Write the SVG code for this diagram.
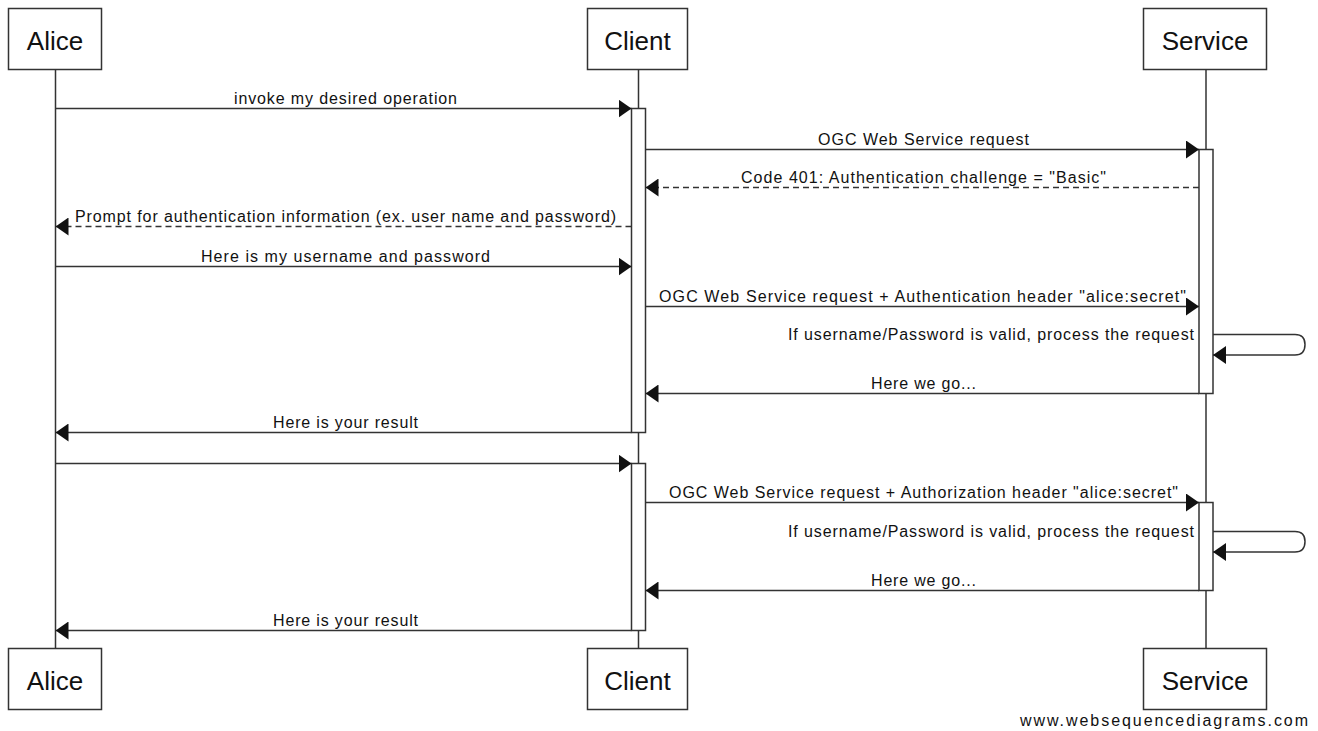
<svg xmlns="http://www.w3.org/2000/svg" width="1318" height="731" viewBox="0 0 1318 731">
  <style>
    .box { fill: #ffffff; stroke: #333333; stroke-width: 1.5; }
    .life { stroke: #333333; stroke-width: 1.5; fill: none; }
    .act { fill: #ffffff; stroke: #333333; stroke-width: 1.5; }
    .msg { stroke: #333333; stroke-width: 1.5; fill: none; marker-end: url(#head); }
    .dash { stroke-dasharray: 6 4; }
    .actor { font-family: "Liberation Sans", Arial, sans-serif; font-size: 26px; fill: #111111; text-anchor: middle; }
    .lbl { font-family: "Liberation Sans", Arial, sans-serif; font-size: 16px; fill: #111111; text-anchor: middle; }
    .lblr { font-family: "Liberation Sans", Arial, sans-serif; font-size: 16px; fill: #111111; text-anchor: end; }
    .foot { font-family: "Liberation Sans", Arial, sans-serif; font-size: 16px; fill: #111111; }
  </style>
  <defs>
    <marker id="head" viewBox="0 0 13 18" refX="13" refY="9" markerWidth="13" markerHeight="18" markerUnits="userSpaceOnUse" orient="auto">
      <path d="M0,0 L13,9 L0,18 Z" fill="#111111"/>
    </marker>
  </defs>
  <rect width="1318" height="731" fill="#ffffff"/>

  <!-- lifelines -->
  <g id="lifelines">
    <line class="life" x1="55.5" y1="70" x2="55.5" y2="648"/>
    <line class="life" x1="638.5" y1="70" x2="638.5" y2="648"/>
    <line class="life" x1="1206" y1="70" x2="1206" y2="648"/>
  </g>

  <!-- activation bars -->
  <g id="activations">
    <rect class="act" x="631.5" y="108.5" width="14" height="324"/>
    <rect class="act" x="631.5" y="463.5" width="14" height="167"/>
    <rect class="act" x="1199" y="149.5" width="14" height="244"/>
    <rect class="act" x="1199" y="502.5" width="14" height="88"/>
  </g>

  <!-- actors -->
  <g id="alice-top"><rect class="box" x="8.5" y="8.5" width="93" height="61"/><text class="actor" x="55" y="50">Alice</text></g>
  <g id="client-top"><rect class="box" x="587.5" y="8.5" width="100" height="61"/><text class="actor" x="637.5" y="50">Client</text></g>
  <g id="service-top"><rect class="box" x="1143.5" y="8.5" width="123" height="61"/><text class="actor" x="1205" y="50">Service</text></g>
  <g id="alice-bottom"><rect class="box" x="8.5" y="648.5" width="93" height="61"/><text class="actor" x="55" y="690">Alice</text></g>
  <g id="client-bottom"><rect class="box" x="587.5" y="648.5" width="100" height="61"/><text class="actor" x="637.5" y="690">Client</text></g>
  <g id="service-bottom"><rect class="box" x="1143.5" y="648.5" width="123" height="61"/><text class="actor" x="1205" y="690">Service</text></g>

  <!-- messages -->
  <g id="connectors">
    <line class="msg" x1="56" y1="108.5" x2="631.5" y2="108.5"/>
    <line class="msg" x1="645.5" y1="149.5" x2="1199" y2="149.5"/>
    <line class="msg dash" x1="1199" y1="187.5" x2="645.5" y2="187.5"/>
    <line class="msg dash" x1="631.5" y1="226.5" x2="55.5" y2="226.5"/>
    <line class="msg" x1="56" y1="266.5" x2="631.5" y2="266.5"/>
    <line class="msg" x1="645.5" y1="306.5" x2="1199" y2="306.5"/>
    <path class="msg" d="M1213,334.5 H1295 Q1305,334.5 1305,344.5 Q1305,355 1295,355 H1213"/>
    <line class="msg" x1="1199" y1="393.5" x2="645.5" y2="393.5"/>
    <line class="msg" x1="631.5" y1="432.5" x2="55.5" y2="432.5"/>
    <line class="msg" x1="56" y1="463.5" x2="631.5" y2="463.5"/>
    <line class="msg" x1="645.5" y1="502.5" x2="1199" y2="502.5"/>
    <path class="msg" d="M1213,531.5 H1295 Q1305,531.5 1305,541.5 Q1305,552 1295,552 H1213"/>
    <line class="msg" x1="1199" y1="590.5" x2="645.5" y2="590.5"/>
    <line class="msg" x1="631.5" y1="630.5" x2="55.5" y2="630.5"/>
  </g>

  <!-- message labels -->
  <g id="labels">
    <text class="lbl" x="345.5" y="104" textLength="223" lengthAdjust="spacing">invoke my desired operation</text>
    <text class="lbl" x="923.5" y="145" textLength="211" lengthAdjust="spacing">OGC Web Service request</text>
    <text class="lbl" x="923.5" y="183" textLength="365" lengthAdjust="spacing">Code 401: Authentication challenge = "Basic"</text>
    <text class="lbl" x="345.5" y="222" textLength="541" lengthAdjust="spacing">Prompt for authentication information (ex. user name and password)</text>
    <text class="lbl" x="345.5" y="262" textLength="289" lengthAdjust="spacing">Here is my username and password</text>
    <text class="lbl" x="922.5" y="302" textLength="527" lengthAdjust="spacing">OGC Web Service request + Authentication header "alice:secret"</text>
    <text class="lblr" x="1194" y="339.5" textLength="406" lengthAdjust="spacing">If username/Password is valid, process the request</text>
    <text class="lbl" x="923.5" y="389" textLength="105" lengthAdjust="spacing">Here we go...</text>
    <text class="lbl" x="345.5" y="428" textLength="145" lengthAdjust="spacing">Here is your result</text>
    <text class="lbl" x="923.5" y="498" textLength="509" lengthAdjust="spacing">OGC Web Service request + Authorization header "alice:secret"</text>
    <text class="lblr" x="1194" y="536.5" textLength="406" lengthAdjust="spacing">If username/Password is valid, process the request</text>
    <text class="lbl" x="923.5" y="586" textLength="105" lengthAdjust="spacing">Here we go...</text>
    <text class="lbl" x="345.5" y="626" textLength="145" lengthAdjust="spacing">Here is your result</text>
  </g>

  <text class="foot" x="1020" y="726" textLength="288" lengthAdjust="spacing">www.websequencediagrams.com</text>
</svg>
